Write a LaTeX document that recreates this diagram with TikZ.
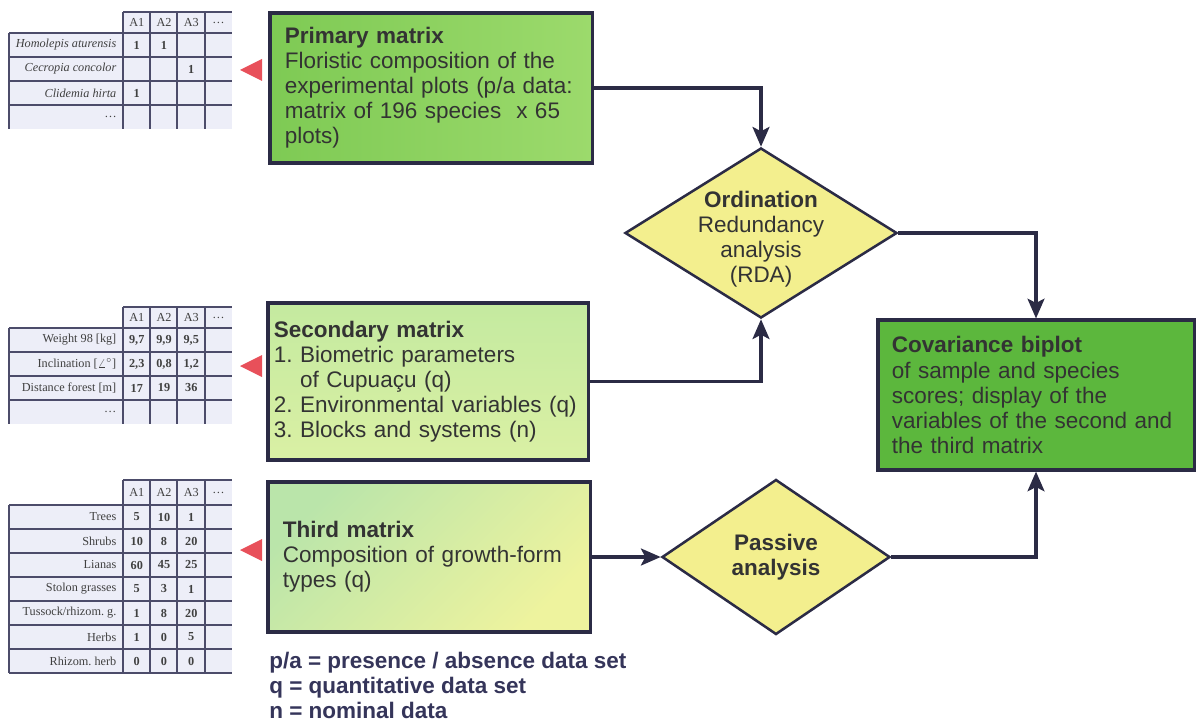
\documentclass[tikz,border=0pt]{standalone}
\usepackage{fontspec}
\setmainfont{Liberation Sans}
\newfontfamily\tabserif{Liberation Serif}
\usepackage{xcolor}
\usepackage{tikz}
\usetikzlibrary{shapes.geometric,arrows.meta}
\definecolor{linenavy}{HTML}{2B2B45}
\definecolor{legendnavy}{HTML}{35355A}
\definecolor{gridgray}{HTML}{4C4C6A}
\definecolor{cellbg}{HTML}{EDEEF8}
\definecolor{pointred}{HTML}{E8505A}
\definecolor{diamyellow}{HTML}{F3EF8E}
\definecolor{covgreen}{HTML}{5CB73D}
\newcommand{\tabtext}{\tabserif\fontsize{8.7}{9}\selectfont}
\newcommand{\boxtext}{\fontsize{16}{17.8}\selectfont\frenchspacing}

\begin{document}
\begin{tikzpicture}[x=0.025cm,y=-0.025cm,
    box/.style={draw=linenavy,line width=2.2pt,align=left,minimum height=3.75cm,text=black!80,font=\boxtext},
    dia/.style={draw=linenavy,line width=1.8pt,diamond,fill=diamyellow,align=center,inner sep=-2pt,text=black!80,font=\boxtext},
    arr/.style={draw=linenavy,line width=2.4pt,-{Stealth[length=14pt,width=12pt,inset=3pt]}},
    grid/.style={draw=gridgray,line width=0.9pt},
    cell/.style={font=\tabtext,inner sep=1pt,text=black!75}]
    \useasboundingbox (0,0) rectangle (1196,722);

    % matrices
    \node[box,left color={rgb,255:red,126;green,202;blue,84},right color={rgb,255:red,156;green,218;blue,108},inner xsep=0.375cm,text width=7.3cm] (1) at (431,88)
        {\textbf{Primary matrix}\\Floristic composition of the\\experimental plots (p/a data:\\matrix of 196 species~ x 65\\plots)};
    \node[box,top color={rgb,255:red,196;green,234;blue,160},bottom color={rgb,255:red,218;green,240;blue,164},inner xsep=0.15cm,text width=7.7cm,minimum height=3.925cm] (2) at (428,381.5)
        {\textbf{Secondary matrix}\\1.\ Biometric parameters\\\phantom{1.\ }of Cupuaçu (q)\\2.\ Environmental variables (q)\\3.\ Blocks and systems (n)};
    \node[box,left color={rgb,255:red,186;green,229;blue,170},right color={rgb,255:red,238;green,243;blue,158},shading angle=45,inner xsep=0.375cm,text width=7.3cm] (3) at (429,557)
        {\textbf{Third matrix}\\Composition of growth-form\\types (q)};

    % analyses
    \node[dia,aspect=1.6,minimum width=6.8cm,minimum height=4.25cm] (4) at (761,233)
        {\raisebox{-5pt}[\height][\depth]{\begin{tabular}{@{}c@{}}\textbf{Ordination}\\Redundancy\\analysis\\(RDA)\end{tabular}}};
    \node[dia,aspect=1.47,minimum width=5.7cm,minimum height=3.875cm] (5) at (776,557)
        {\textbf{Passive}\\\textbf{analysis}};
    \node[box,fill=covgreen,inner xsep=0.35cm,text width=7.2cm] (6) at (1036,395)
        {\textbf{Covariance biplot}\\of sample and species\\scores; display of the\\variables of the second and\\the third matrix};

    \draw[arr] (1.east) -| (4.north);
    \draw[arr] (2.east) -| (4.south);
    \draw[arr] (3.east) -- (5.west);
    \draw[arr] (4.east) -| (6.north);
    \draw[arr] (5.east) -| (6.south);

    \node[anchor=north west,inner sep=0pt,align=left,text=legendnavy,font=\bfseries\boxtext] (7) at (269,652)
        {p/a = presence / absence data set\\q = quantitative data set\\n = nominal data};

    % red pointers
    \foreach \y in {70,366,550}
        \fill[pointred] (240,\y) -- (262,\y-11) -- (262,\y+11) -- cycle;

    % species table
    \fill[cellbg] (123,12) rectangle (232,33);
    \fill[cellbg] (9,33) rectangle (232,129);
    \draw[grid] (123,12) -- (232,12);
    \foreach \y in {33,57,81,105} \draw[grid] (9,\y) -- (232,\y);
    \draw[grid] (9,33) -- (9,129);
    \foreach \x in {123,150,177,205} \draw[grid] (\x,12) -- (\x,129);
    \foreach \t [count=\i] in {A1,A2,A3,\ldots}
        \node[cell] (ha\i) at ({109.5+27.25*\i},22.5) {\t};
    \foreach \n/\a/\b/\c [count=\r] in {Homolepis aturensis/1/1/, Cecropia concolor///1, Clidemia hirta/1//, \ldots///}{
        \node[cell,anchor=east,font=\tabtext\itshape] (spn\r) at (118,{21+24*\r}) {\n};
        \node[cell,font=\tabtext\bfseries] (spa\r) at (136.75,{21+24*\r}) {\a};
        \node[cell,font=\tabtext\bfseries] (spb\r) at (164,{21+24*\r}) {\b};
        \node[cell,font=\tabtext\bfseries] (spc\r) at (191.25,{21+24*\r}) {\c};
    }

    % variables table
    \fill[cellbg] (123,307) rectangle (232,328);
    \fill[cellbg] (9,328) rectangle (232,424);
    \draw[grid] (123,307) -- (232,307);
    \foreach \y in {328,352,376,400} \draw[grid] (9,\y) -- (232,\y);
    \draw[grid] (9,328) -- (9,424);
    \foreach \x in {123,150,177,205} \draw[grid] (\x,307) -- (\x,424);
    \foreach \t [count=\i] in {A1,A2,A3,\ldots}
        \node[cell] (hb\i) at ({109.5+27.25*\i},317.5) {\t};
    \foreach \n/\a/\b/\c [count=\r] in {Weight 98 [kg]/{9,7}/{9,9}/{9,5}, Inclination [$\angle^\circ$]/{2,3}/{0,8}/{1,2}, Distance forest [m]/17/19/36, \ldots///}{
        \node[cell,anchor=east] (vrn\r) at (118,{316+24*\r}) {\n};
        \node[cell,font=\tabtext\bfseries] (vra\r) at (136.75,{316+24*\r}) {\a};
        \node[cell,font=\tabtext\bfseries] (vrb\r) at (164,{316+24*\r}) {\b};
        \node[cell,font=\tabtext\bfseries] (vrc\r) at (191.25,{316+24*\r}) {\c};
    }

    % growth-form table
    \fill[cellbg] (123,480) rectangle (232,505);
    \fill[cellbg] (9,505) rectangle (232,673);
    \draw[grid] (123,480) -- (232,480);
    \foreach \y in {505,529,553,577,601,625,649,673} \draw[grid] (9,\y) -- (232,\y);
    \draw[grid] (9,505) -- (9,673);
    \foreach \x in {123,150,177,205} \draw[grid] (\x,480) -- (\x,673);
    \foreach \t [count=\i] in {A1,A2,A3,\ldots}
        \node[cell] (hc\i) at ({109.5+27.25*\i},492.5) {\t};
    \foreach \n/\a/\b/\c [count=\r] in {Trees/5/10/1, Shrubs/10/8/20, Lianas/60/45/25, Stolon grasses/5/3/1, {Tussock/rhizom.\ g.}/1/8/20, Herbs/1/0/5, Rhizom.\ herb/0/0/0}{
        \node[cell,anchor=east] (gfn\r) at (118,{493+24*\r}) {\n};
        \node[cell,font=\tabtext\bfseries] (gfa\r) at (136.75,{493+24*\r}) {\a};
        \node[cell,font=\tabtext\bfseries] (gfb\r) at (164,{493+24*\r}) {\b};
        \node[cell,font=\tabtext\bfseries] (gfc\r) at (191.25,{493+24*\r}) {\c};
    }
\end{tikzpicture}
\end{document}
